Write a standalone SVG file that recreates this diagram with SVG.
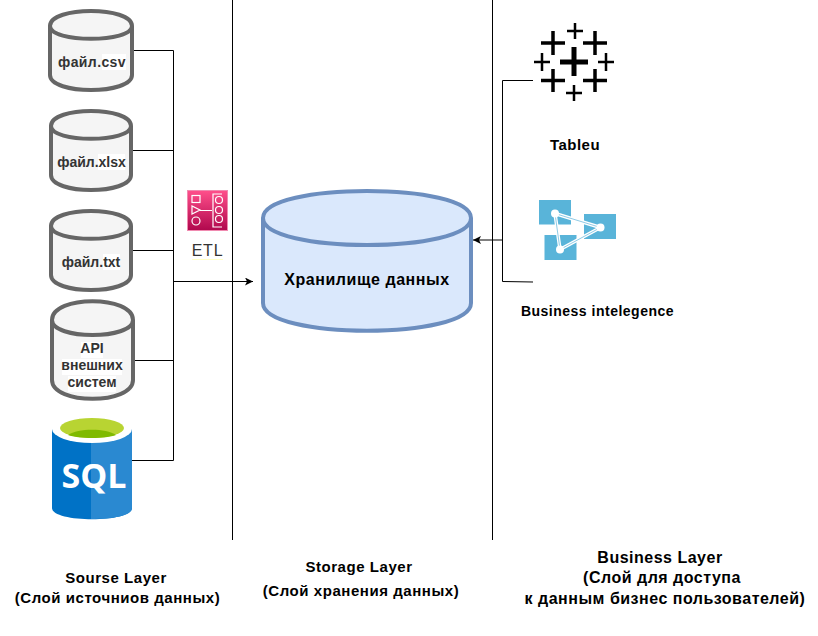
<svg xmlns="http://www.w3.org/2000/svg" width="818" height="636" viewBox="0 0 818 636">
<style>
text{font-family:"Liberation Sans",Arial,sans-serif;font-weight:bold;text-anchor:middle;fill:#000}
.cyl{fill:#f5f5f5;stroke:#666;stroke-width:4}
.lbl{font-size:14px;letter-spacing:.4px;fill:#333}
.lb2{font-size:14px;fill:#333}
.bg{fill:#fff}
.ln{fill:none;stroke:#000;stroke-width:1}
.cap{font-size:15px;letter-spacing:.55px}
.cap2{font-size:16px;letter-spacing:.5px}
.pl{fill:none;stroke:#000;stroke-linecap:butt}
.az{fill:#59b4d9}
.azw{fill:none;stroke:#fff;stroke-width:3.500;stroke-linejoin:round}
.azb{fill:none;stroke:#8fcbe6;stroke-width:1;stroke-linejoin:round}
</style>
<defs>
<marker id="arr" markerWidth="9" markerHeight="8" refX="8" refY="4" orient="auto" markerUnits="userSpaceOnUse"><path d="M0 0L8 4L0 8L2 4Z" fill="#000"/></marker>
<linearGradient id="pink" x1="0" y1="1" x2="0" y2="0"><stop offset="0" stop-color="#b0084d"/><stop offset="1" stop-color="#ff4f8b"/></linearGradient>
</defs>
<rect width="818" height="636" fill="#fff"/>
<g id="connectors">
<path class="ln" d="M232.500 0V540M492.500 0V540"/>
<path class="ln" d="M132 50.500H173.500V460.500H132M132 150.500H173.500M132 250.500H173.500M132 360.500H173.500"/>
<path class="ln" d="M173.500 281.500H253" marker-end="url(#arr)"/>
<path class="ln" d="M533 80.500H502.500V281.500L533 282"/>
<path class="ln" d="M502.500 240H473" marker-end="url(#arr)"/>
</g>
<g id="csv"><path class="cyl" d="M50 26C50 6 132 6 132 26V75C132 95 50 95 50 75Z"/><path class="cyl" d="M50 26C50 43 132 43 132 26"/><rect class="bg" x="102" y="54" width="24" height="16"/><text class="lbl" x="92" y="67">файл.csv</text></g>
<g id="xlsx"><path class="cyl" d="M51 126C51 106 131 106 131 126V175C131 195 51 195 51 175Z"/><path class="cyl" d="M51 126C51 143 131 143 131 126"/><rect class="bg" x="98" y="154" width="27" height="16"/><text class="lb2" x="91.500" y="167">файл.xlsx</text></g>
<g id="txt"><path class="cyl" d="M51 226C51 206 131 206 131 226V275C131 295 51 295 51 275Z"/><path class="cyl" d="M51 226C51 243 131 243 131 226"/><rect class="bg" x="103" y="254" width="17" height="16"/><text class="lb2" x="91" y="267">файл.txt</text></g>
<g id="api"><path class="cyl" d="M52 320C52 295 133 295 133 320V380C133 405 52 405 52 380Z"/><path class="cyl" d="M52 320C52 340 133 340 133 320"/><rect class="bg" x="81" y="342" width="22" height="16"/><rect class="bg" x="62" y="359" width="60" height="16"/><rect class="bg" x="68" y="376" width="48" height="16"/><text class="lb2" x="92" y="353">API</text><text class="lb2" x="92" y="370">внешних</text><text class="lb2" x="92" y="387">систем</text></g>
<g id="sql">
<path d="M52 429V508C52 523 132 523 132 508V429Z" fill="#0072c6"/>
<path d="M91 441V519C112 519 132 516 132 508V429Z" fill="#2a89d1"/>
<ellipse cx="92" cy="429" rx="40" ry="14" fill="#fff"/>
<ellipse cx="92" cy="428" rx="32" ry="10" fill="#b8d432"/>
<path d="M68 435C78 428 106 428 116 435C106 439 78 439 68 435Z" fill="#7fba00"/>
<text x="94" y="488" style="font-family:'Open Sans','Liberation Sans',sans-serif;font-size:34px;font-weight:700;fill:#fff">SQL</text>
</g>
<g id="etl">
<rect x="187.500" y="190.500" width="40" height="40" fill="url(#pink)" stroke="#f08ab0" stroke-width="1"/>
<g fill="none" stroke="#fff" stroke-width="1.200"><rect x="192" y="195.500" width="8" height="7"/><path d="M192 206V214L200 210Z"/><circle cx="196" cy="221" r="4"/><path d="M200 210.500H212M222 194H213V227H222"/><circle cx="219" cy="200" r="3.500"/><circle cx="219" cy="210" r="3.500"/><circle cx="219" cy="219" r="3.500"/></g>
<rect x="192" y="259" width="31" height="1" fill="#ffffc8"/>
<text x="207.500" y="256" style="font-weight:normal;font-size:16px;letter-spacing:.8px;fill:#333">ETL</text>
</g>
<g id="storage"><path d="M263 218C263 182 471 182 471 218V303C471 340 263 340 263 303Z" fill="#dae8fc" stroke="#6c8ebf" stroke-width="4"/><path d="M263 218C263 254 471 254 471 218" fill="none" stroke="#6c8ebf" stroke-width="4"/><text x="367" y="285" style="font-size:16px;letter-spacing:.55px">Хранилище данных</text></g>
<g id="tableau">
<path class="pl" stroke-width="5" d="M574 47V76M560 62H588"/>
<path class="pl" stroke-width="3.500" d="M553 31V55M541 43H565M595 31V55M583 43H607M553 69V92M541 80.500H565M595 69V92M583 80.500H607"/>
<path class="pl" stroke-width="2.500" d="M575 23V39M567 31H583M542 53V71M534 62H550M606 53V71M598 62H614M574 85V101M566 93H582"/>
<text x="575" y="150" style="font-size:15px;letter-spacing:.5px">Tableu</text>
</g>
<g id="bi">
<rect class="az" x="539" y="200" width="32" height="24.500"/><rect class="az" x="584" y="214" width="32" height="25"/><rect class="az" x="544.500" y="235" width="32" height="25"/>
<path class="azw" d="M555 213.500L600.500 227.500L560 249.500Z"/><path class="azb" d="M555 213.500L600.500 227.500L560 249.500Z"/>
<circle cx="555" cy="213.500" r="4" fill="#fff"/><circle cx="600.500" cy="227.500" r="4" fill="#fff"/><circle cx="560" cy="249.500" r="4" fill="#fff"/>
<text x="597.500" y="316" style="font-size:14px;letter-spacing:.5px">Business intelegence</text>
</g>
<g id="captions">
<text class="cap" x="116" y="583">Sourse Layer</text><text class="cap" x="117.500" y="603">(Слой источниов данных)</text>
<text class="cap" x="359" y="572">Storage Layer</text><text class="cap" x="361" y="596">(Слой хранения данных)</text>
<text class="cap2" x="660" y="563">Business Layer</text><text class="cap2" x="662" y="583">(Слой для доступа</text><text class="cap2" x="665" y="604">к данным бизнес пользователей)</text>
</g>
</svg>
